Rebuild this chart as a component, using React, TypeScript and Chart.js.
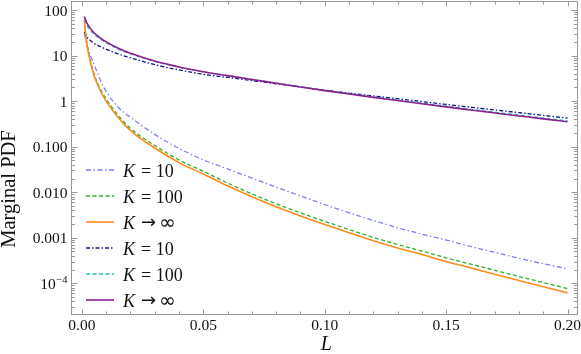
import React, { useEffect, useRef } from "react";
import { Chart, registerables } from "chart.js";
Chart.register(...registerables);

// ---- data ----
const L = [0.001, 0.002, 0.003, 0.005, 0.0075, 0.01, 0.015, 0.02, 0.03, 0.04, 0.05, 0.06, 0.07, 0.08, 0.09, 0.1, 0.11, 0.12, 0.13, 0.14, 0.15, 0.16, 0.17, 0.18, 0.19, 0.2];

const lowK10 = [30.2, 17.4, 11.7, 6.46, 2.95, 1.62, 0.724, 0.441, 0.186, 0.0912, 0.0513, 0.0324, 0.0204, 0.0129, 0.00832, 0.00537, 0.00355, 0.0024, 0.00166, 0.0012, 8.91e-4, 6.46e-4, 4.79e-4, 3.55e-4, 2.69e-4, 2.09e-4];
const lowK100 = [60.3, 19.4, 10.0, 3.95, 1.87, 1.11, 0.481, 0.251, 0.106, 0.0511, 0.0288, 0.0159, 0.0092, 0.00557, 0.00353, 0.00229, 0.00152, 0.00102, 7.1e-4, 5.11e-4, 3.63e-4, 2.65e-4, 1.93e-4, 1.41e-4, 1.04e-4, 7.67e-5];
const lowInf = [57.5, 18.3, 9.33, 3.65, 1.71, 1.0, 0.431, 0.224, 0.0933, 0.0447, 0.0251, 0.0138, 0.00794, 0.00479, 0.00302, 0.00195, 0.00129, 8.61e-4, 5.96e-4, 4.27e-4, 3.02e-4, 2.19e-4, 1.58e-4, 1.15e-4, 8.41e-5, 6.17e-5];
const upK10 = [33.1, 25.7, 22.4, 18.6, 15.8, 13.8, 10.8, 8.91, 6.31, 4.84, 3.89, 3.31, 2.82, 2.4, 2.04, 1.74, 1.5, 1.3, 1.13, 0.977, 0.847, 0.735, 0.641, 0.558, 0.486, 0.424];
const upK100 = [61.7, 46.2, 38.5, 29.2, 23.1, 19.0, 13.9, 10.9, 7.45, 5.56, 4.39, 3.63, 3.0, 2.49, 2.07, 1.73, 1.46, 1.24, 1.06, 0.906, 0.774, 0.665, 0.573, 0.494, 0.427, 0.37];
const upInf = [72.4, 52.5, 42.7, 31.6, 24.5, 20.0, 14.5, 11.2, 7.59, 5.62, 4.42, 3.63, 2.99, 2.47, 2.04, 1.7, 1.43, 1.21, 1.03, 0.875, 0.746, 0.64, 0.55, 0.473, 0.407, 0.352];

const legendLabels = ["= 10", "= 100", "\u2192\u221E", "= 10", "= 100", "\u2192\u221E"];

const xTickValues = [0, 0.05, 0.1, 0.15, 0.2];
const xTickLabels = ["0.00", "0.05", "0.10", "0.15", "0.20"];
const yTickValues = [1e-4, 1e-3, 0.01, 0.1, 1, 10, 100];
const yTickLabels = ["10^\u22124", "0.001", "0.010", "0.100", "1", "10", "100"];

const xTitle = "L";
const yTitle = "Marginal PDF";

// ---- styles ----
const seriesStyle = [
  { values: lowK10, color: "#7f7fff", width: 1.3, dash: [5, 2.5, 1.5, 2.5], order: 5 },
  { values: lowK100, color: "#2eb02e", width: 1.3, dash: [4, 2.5], order: 4 },
  { values: lowInf, color: "#ff8a1c", width: 1.6, dash: [], order: 1 },
  { values: upK10, color: "#14148a", width: 1.3, dash: [4, 2, 1.5, 2], order: 3 },
  { values: upK100, color: "#22bdbd", width: 1.3, dash: [4, 2.5], order: 2 },
  { values: upInf, color: "#8e1e8e", width: 1.6, dash: [], order: 0 },
];

const FONT = "'Liberation Serif', 'DejaVu Serif', serif";
const SYMFONT = "'DejaVu Sans', sans-serif";
const FRAME = "#999999";
const TEXT = "#111111";

const framePlugin = {
  id: "mmaFrame",
  afterDatasetsDraw(chart: any) {
    const { ctx, chartArea: a } = chart;
    const xs = chart.scales.x;
    const ys = chart.scales.y;
    ctx.save();
    // frame
    ctx.strokeStyle = FRAME;
    ctx.lineWidth = 1;
    const l = Math.round(a.left) + 0.5;
    const r = Math.round(a.right) - 0.5;
    const t = Math.round(a.top) + 0.5;
    const b = Math.round(a.bottom) + 0.5;
    ctx.strokeRect(l, t, r - l, b - t);

    ctx.beginPath();
    for (let i = 0; i <= 20; i++) {
      const v = i * 0.01;
      const major = i % 5 === 0;
      const len = major ? 5 : 3;
      const px = Math.round(xs.getPixelForValue(v)) + 0.5;
      ctx.moveTo(px, b);
      ctx.lineTo(px, b - len);
      ctx.moveTo(px, t);
      ctx.lineTo(px, t + len);
    }
    for (let d = -5; d <= 2; d++) {
      for (let m = 1; m <= 9; m++) {
        const v = m * Math.pow(10, d);
        if (v < ys.min || v > ys.max) continue;
        const len = m === 1 ? 6 : 3.5;
        const py = Math.round(ys.getPixelForValue(v)) + 0.5;
        ctx.moveTo(l, py);
        ctx.lineTo(l + len, py);
        ctx.moveTo(r, py);
        ctx.lineTo(r - len, py);
      }
    }
    ctx.stroke();

    // tick labels
    ctx.fillStyle = TEXT;
    ctx.font = `15.5px ${FONT}`;
    ctx.textAlign = "center";
    ctx.textBaseline = "middle";
    xTickValues.forEach((v, i) => {
      ctx.fillText(xTickLabels[i], xs.getPixelForValue(v), 325.5);
    });
    const yRight = a.left - 3.5;
    yTickValues.forEach((v, i) => {
      const py = ys.getPixelForValue(v);
      const lab = yTickLabels[i];
      ctx.textBaseline = "alphabetic";
      ctx.textAlign = "right";
      if (lab.includes("^")) {
        const [base, exp] = lab.split("^");
        ctx.font = `10.5px ${FONT}`;
        const ew = ctx.measureText(exp).width;
        ctx.fillText(exp, yRight, py);
        ctx.font = `15.5px ${FONT}`;
        ctx.fillText(base, yRight - ew - 0.5, py + 5.5);
      } else {
        ctx.font = `15.5px ${FONT}`;
        ctx.fillText(lab, yRight, py + 5.5);
      }
    });

    // axis titles
    ctx.font = `italic 20px ${FONT}`;
    ctx.textAlign = "center";
    ctx.textBaseline = "alphabetic";
    ctx.fillText(xTitle, (a.left + a.right) / 2 + 2, 350);
    ctx.save();
    ctx.translate(14.5, 189);
    ctx.rotate(-Math.PI / 2);
    ctx.font = `20.5px ${FONT}`;
    ctx.fillText(yTitle, 0, 0);
    ctx.restore();

    // legend
    const legendTop = 170;
    const legendStep = 26;
    chart.data.datasets.forEach((ds: any, i: number) => {
      const y = legendTop + i * legendStep;
      ctx.save();
      ctx.strokeStyle = ds.borderColor;
      ctx.lineWidth = ds.borderWidth;
      ctx.setLineDash(ds.borderDash || []);
      ctx.beginPath();
      ctx.moveTo(86, y);
      ctx.lineTo(114, y);
      ctx.stroke();
      ctx.restore();
      ctx.fillStyle = TEXT;
      ctx.textAlign = "left";
      ctx.textBaseline = "alphabetic";
      ctx.font = `italic 18px ${FONT}`;
      ctx.fillText("K", 123, y + 6.5);
      const kw = ctx.measureText("K").width;
      const lab = legendLabels[i];
      if (lab.startsWith("=")) {
        ctx.font = `18px ${FONT}`;
        ctx.fillText(lab, 123 + kw + 6, y + 6.5);
      } else {
        ctx.font = `18px ${SYMFONT}`;
        ctx.fillText(lab[0], 141, y + 5.5);
        ctx.font = `20px ${SYMFONT}`;
        ctx.fillText(lab[1], 159, y + 6.5);
      }
    });
    ctx.restore();
  },
};

export default function App() {
  const ref = useRef<HTMLCanvasElement>(null);
  useEffect(() => {
    const canvas = ref.current;
    if (!canvas) return;
    const chart = new Chart(canvas, {
      type: "line",
      data: {
        datasets: seriesStyle.map((s) => ({
          label: "K",
          data: L.map((x, i) => ({ x, y: s.values[i] })),
          borderColor: s.color,
          borderWidth: s.width,
          borderDash: s.dash,
          order: s.order,
          pointRadius: 0,
          fill: false,
          cubicInterpolationMode: "monotone",
        })),
      },
      options: {
        animation: false,
        responsive: false,
        devicePixelRatio: 1,
        layout: { padding: { left: 71, right: 3.5, top: 1, bottom: 40 } },
        scales: {
          x: { type: "linear", min: -0.0045, max: 0.2041, display: false },
          y: { type: "logarithmic", min: 2.12e-5, max: 157.8, display: false },
        },
        plugins: { legend: { display: false }, tooltip: { enabled: false } },
      },
      plugins: [framePlugin],
    } as any);
    return () => chart.destroy();
  }, []);
  return (
    <div style={{ position: "absolute", left: 0, top: 0, width: 581, height: 354, background: "#fff" }}>
      <canvas ref={ref} width={581} height={354} style={{ display: "block" }} />
    </div>
  );
}
